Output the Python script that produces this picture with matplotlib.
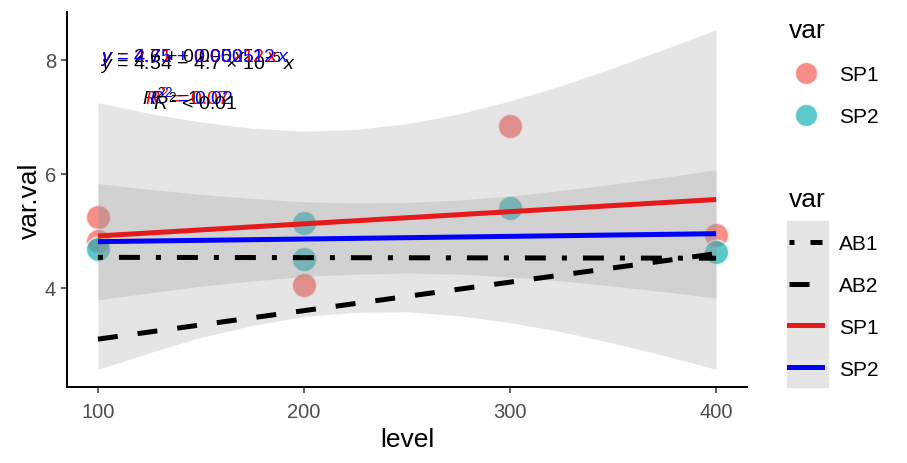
import matplotlib
matplotlib.use('Agg')
import matplotlib.pyplot as plt
from matplotlib.lines import Line2D
from matplotlib.patches import Rectangle

plt.rcParams['font.family'] = ['Liberation Sans', 'DejaVu Sans']
plt.rcParams['mathtext.fontset'] = 'custom'
plt.rcParams['mathtext.rm'] = 'Liberation Sans'
plt.rcParams['mathtext.it'] = 'Liberation Sans:italic'

# observed points
sp1_level = [100, 100, 200, 300, 400]
sp1_val = [5.25, 4.82, 4.05, 6.84, 4.93]
sp2_level = [100, 200, 200, 300, 400]
sp2_val = [4.68, 5.14, 4.51, 5.40, 4.63]

# fitted lines, read at both ends
fit_level = [100, 400]
sp1_fit = [4.91, 5.55]
sp2_fit = [4.81, 4.95]
ab1_fit = [4.535, 4.52]
ab2_fit = [3.10, 4.60]

# confidence bands
band_level = [100, 125, 150, 175, 200, 225, 250, 275, 300, 325, 350, 375, 400]
sp1_lo = [2.57, 2.86, 3.13, 3.34, 3.50, 3.57, 3.58, 3.51, 3.39, 3.23, 3.03, 2.81, 2.57]
sp1_hi = [7.25, 7.06, 6.91, 6.80, 6.75, 6.78, 6.88, 7.05, 7.28, 7.55, 7.86, 8.19, 8.53]
sp2_lo = [3.79, 3.91, 4.03, 4.12, 4.20, 4.24, 4.26, 4.24, 4.19, 4.12, 4.03, 3.93, 3.82]
sp2_hi = [5.83, 5.73, 5.64, 5.57, 5.51, 5.49, 5.50, 5.54, 5.61, 5.71, 5.82, 5.94, 6.07]

# equation labels (text, colour, x, y) in axes fraction
eq_labels = [
    (r'$\mathit{y}$ = 2.6 + 0.005$\,\mathit{x}$', 'black', 0.048, 0.880),
    (r'$\mathit{y}$ = 4.54 $-$ 4.7 $\times$ 10$^{-5}\,\mathit{x}$', 'black', 0.048, 0.866),
    (r'$\mathit{y}$ = 4.71 + 0.00212$\,\mathit{x}$', 'red', 0.048, 0.880),
    (r'$\mathit{y}$ = 4.75 + 0.000512$\,\mathit{x}$', 'blue', 0.048, 0.880),
]
r2_labels = [
    (r'$\mathit{R}^2$ = 1', 'black', 0.111, 0.776),
    (r'$\mathit{R}^2$ = 0.07', 'red', 0.115, 0.776),
    (r'$\mathit{R}^2$ = 0.02', 'blue', 0.121, 0.776),
    (r'$\mathit{R}^2$ < 0.01', 'black', 0.127, 0.762),
]

sp1_col = '#F55E58'
sp2_col = '#16B2B5'

fig = plt.figure(figsize=(9.07, 4.64), dpi=100)
ax = fig.add_axes([67 / 907, 76 / 464, 680 / 907, 375 / 464])

pt_kw = dict(s=310, alpha=0.7, edgecolors=(1, 1, 1, 0.6), linewidths=1.2, zorder=2)
ax.scatter(sp1_level, sp1_val, color=sp1_col, **pt_kw)
ax.scatter(sp2_level, sp2_val, color=sp2_col, **pt_kw)

ax.fill_between(band_level, sp1_lo, sp1_hi, color='#999999', alpha=0.25, lw=0, zorder=3)
ax.fill_between(band_level, sp2_lo, sp2_hi, color='#999999', alpha=0.25, lw=0, zorder=3)

lw = 3.6
ax.plot(fit_level, ab1_fit, color='black', lw=lw, ls=(0, (1, 3.2, 4.2, 3.2)), dash_capstyle='butt', zorder=5)
ax.plot(fit_level, ab2_fit, color='black', lw=lw, ls=(0, (4, 4)), dash_capstyle='butt', zorder=5)
ax.plot(fit_level, sp1_fit, color='#E41A1C', lw=lw, solid_capstyle='butt', zorder=4)
ax.plot(fit_level, sp2_fit, color='blue', lw=lw, solid_capstyle='butt', zorder=4)

for txt, col, tx, ty in eq_labels + r2_labels:
    ax.text(tx, ty, txt, color=col, fontsize=14, transform=ax.transAxes,
            ha='left', va='center', zorder=6)

ax.set_xlim(85, 415)
ax.set_ylim(2.26, 8.84)
ax.set_xticks([100, 200, 300, 400])
ax.set_yticks([4, 6, 8])
for s in ['top', 'right']:
    ax.spines[s].set_visible(False)
for s in ['left', 'bottom']:
    ax.spines[s].set_linewidth(1.4)
ax.tick_params(direction='out', length=4, width=1.1, color='#333333',
               labelcolor='#4D4D4D', labelsize=14.5)
ax.tick_params(axis='x', pad=7)
ax.tick_params(axis='y', pad=4)
ax.set_xlabel('level', fontsize=19, labelpad=4)
ax.set_ylabel('var.val', fontsize=19, labelpad=2)

leg_kw = dict(loc='upper left', frameon=False, fontsize=15, title_fontsize=19,
              handlelength=1.6, handletextpad=0.8, labelspacing=1.1,
              borderpad=0, borderaxespad=0)

# legend 1: points
h1 = [Line2D([], [], ls='none', marker='o', ms=16, color=sp1_col, alpha=0.7,
             mec=(1, 1, 1, 0.6)),
      Line2D([], [], ls='none', marker='o', ms=16, color=sp2_col, alpha=0.7,
             mec=(1, 1, 1, 0.6))]
leg1 = fig.legend(h1, ['SP1', 'SP2'], title='var',
                  bbox_to_anchor=(789 / 907, 1 - 19 / 464), **leg_kw)
leg1._legend_box.align = 'left'

# legend 2: lines
fig.patches.append(Rectangle((787 / 907, 76 / 464), 41 / 907, 166 / 464,
                             transform=fig.transFigure, color='#E5E5E5', zorder=0))
h2 = [Line2D([], [], color='black', lw=lw, ls=(0, (1, 3.2, 4.2, 3.2)), dash_capstyle='butt'),
      Line2D([], [], color='black', lw=lw, ls=(0, (4, 4)), dash_capstyle='butt'),
      Line2D([], [], color='#E41A1C', lw=lw),
      Line2D([], [], color='blue', lw=lw)]
leg2 = fig.legend(h2, ['AB1', 'AB2', 'SP1', 'SP2'], title='var',
                  bbox_to_anchor=(789 / 907, 1 - 188 / 464), **leg_kw)
leg2._legend_box.align = 'left'

fig.savefig('out.png', dpi=100)
